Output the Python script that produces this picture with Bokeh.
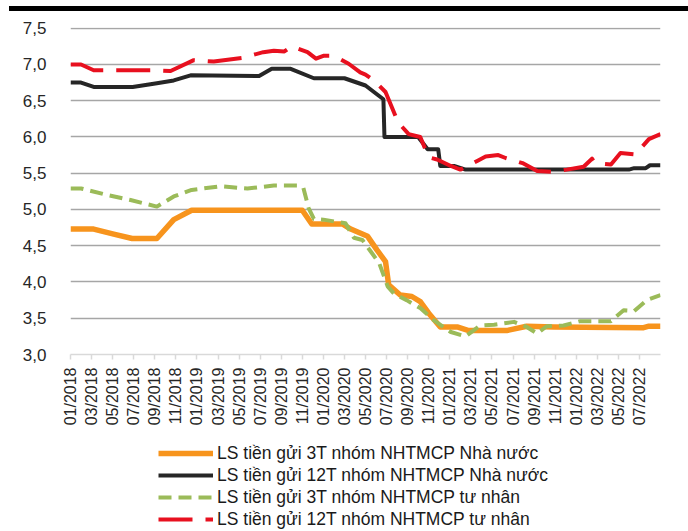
import math
from bokeh.plotting import figure
from bokeh.models import Legend, LegendItem, FixedTicker, Div, Range1d
from bokeh.layouts import column
from bokeh.embed import file_html
from bokeh.resources import INLINE

# x positions are months counted from 01/2018 (0 = 01/2018)
tick_months = list(range(0, 56, 2))
tick_labels = [
    "01/2018", "03/2018", "05/2018", "07/2018", "09/2018", "11/2018",
    "01/2019", "03/2019", "05/2019", "07/2019", "09/2019", "11/2019",
    "01/2020", "03/2020", "05/2020", "07/2020", "09/2020", "11/2020",
    "01/2021", "03/2021", "05/2021", "07/2021", "09/2021", "11/2021",
    "01/2022", "03/2022", "05/2022", "07/2022",
]

# LS tiền gửi 3T nhóm NHTMCP Nhà nước
state_3t_x = [0, 2.2, 4.1, 5.85, 8.2, 9.8, 11.5, 22.0, 22.9, 25.8, 26.6, 28.2, 29.1,
              29.9, 30.2, 31.3, 32.4, 33.2, 34.0, 35.1, 36.7, 37.8, 41.4, 43.3,
              45.9, 54.4, 54.9, 56]
state_3t_y = [4.73, 4.73, 4.66, 4.60, 4.60, 4.86, 4.99, 4.99, 4.80, 4.80, 4.73, 4.63, 4.44,
              4.28, 3.96, 3.82, 3.80, 3.73, 3.57, 3.38, 3.38, 3.33, 3.33, 3.39,
              3.38, 3.37, 3.39, 3.39]

# LS tiền gửi 12T nhóm NHTMCP Nhà nước
state_12t_x = [0, 1.0, 2.2, 5.9, 8.2, 9.8, 11.4, 17.9, 19.1, 20.9, 23.1, 26.0, 28.0,
               28.8, 29.7, 29.8, 33.0, 33.9, 34.9, 35.1, 36.4, 37.5, 53.0, 53.5,
               54.6, 55.0, 56]
state_12t_y = [6.75, 6.75, 6.69, 6.69, 6.74, 6.78, 6.85, 6.84, 6.94, 6.94, 6.81, 6.81, 6.71,
               6.62, 6.52, 6.00, 6.00, 5.83, 5.83, 5.60, 5.60, 5.55, 5.55, 5.57,
               5.57, 5.61, 5.61]

# LS tiền gửi 3T nhóm NHTMCP tư nhân
private_3t_x = [0, 1.0, 3.2, 5.7, 8.2, 9.8, 11.5, 14.2, 16.8, 19.3, 21.5, 22.1, 22.6,
                23.1, 24.0, 26.1, 26.9, 27.7, 28.5, 29.3, 30.1, 30.7, 31.9, 33.2,
                34.5, 36.1, 37.5, 38.9, 40.2, 42.1, 43.3, 44.3, 45.2, 46.8, 48.4,
                51.3, 52.5, 53.5, 54.7, 56]
private_3t_y = [5.29, 5.29, 5.21, 5.13, 5.04, 5.18, 5.27, 5.32, 5.29, 5.33, 5.33, 5.30, 5.02,
                4.87, 4.86, 4.81, 4.61, 4.58, 4.42, 4.26, 3.94, 3.84, 3.75, 3.64,
                3.47, 3.31, 3.25, 3.40, 3.41, 3.45, 3.38, 3.29, 3.39, 3.40, 3.46,
                3.46, 3.61, 3.60, 3.75, 3.82]

# LS tiền gửi 12T nhóm NHTMCP tư nhân
private_12t_x = [0, 1.0, 2.2, 7.8, 9.5, 11.7, 13.6, 16.3, 18.3, 19.3, 20.3, 21.0, 22.5,
                 23.3, 24.0, 25.0, 26.4, 27.5, 28.0, 28.8, 29.9, 31.1, 32.1, 33.2,
                 34.0, 34.8, 36.1, 37.0, 38.6, 39.4, 40.6, 41.3, 42.9, 44.3, 45.7,
                 47.1, 48.7, 49.5, 49.8, 51.3, 52.2, 53.6, 54.9, 56]
private_12t_y = [7.00, 7.00, 6.92, 6.92, 6.91, 7.06, 7.04, 7.09, 7.17, 7.19, 7.18, 7.25, 7.17,
                 7.08, 7.12, 7.12, 7.01, 6.89, 6.86, 6.78, 6.62, 6.20, 6.04, 6.00,
                 5.72, 5.69, 5.60, 5.55, 5.67, 5.73, 5.75, 5.71, 5.64, 5.53, 5.52,
                 5.55, 5.59, 5.70, 5.64, 5.62, 5.78, 5.76, 5.97, 6.04]

series_names = [
    "LS tiền gửi 3T nhóm NHTMCP Nhà nước",
    "LS tiền gửi 12T nhóm NHTMCP Nhà nước",
    "LS tiền gửi 3T nhóm NHTMCP tư nhân",
    "LS tiền gửi 12T nhóm NHTMCP tư nhân",
]

y_ticks = [3.0, 3.5, 4.0, 4.5, 5.0, 5.5, 6.0, 6.5, 7.0, 7.5]

FONT = "Liberation Sans"

# line styles shared by the chart and its legend
styles = [
    dict(line_color="#F7941D", line_width=5.5, line_join="round"),
    dict(line_color="#262626", line_width=4, line_join="round"),
    dict(line_color="#9BBB59", line_width=4, line_dash="13 7", line_join="round"),
    dict(line_color="#E8101F", line_width=4, line_dash="34 13", line_join="round"),
]

p = figure(
    width=688, height=429,
    x_range=Range1d(0, 56), y_range=Range1d(3.0, 7.51),
    output_backend="svg", toolbar_location=None,
    min_border_left=70, min_border_right=28,
    min_border_top=16, min_border_bottom=86,
    background_fill_color="white", border_fill_color="white",
    outline_line_color=None,
)

# y axis: comma decimal labels, no axis line or ticks
p.yaxis.ticker = FixedTicker(ticks=y_ticks)
p.yaxis.major_label_overrides = {t: f"{t:.1f}".replace(".", ",") for t in y_ticks}
p.yaxis.axis_line_color = None
p.yaxis.major_tick_line_color = None
p.yaxis.minor_tick_line_color = None
p.yaxis.major_label_standoff = 18
p.yaxis.major_label_text_font = FONT
p.yaxis.major_label_text_font_size = "17px"
p.yaxis.major_label_text_color = "#262626"

# x axis: vertical month labels every second month
p.xaxis.ticker = FixedTicker(ticks=tick_months)
p.xaxis.major_label_overrides = {m: lab for m, lab in zip(tick_months, tick_labels)}
p.xaxis.major_label_orientation = math.pi / 2
p.xaxis.axis_line_color = "#D9D9D9"
p.xaxis.axis_line_width = 1.5
p.xaxis.major_tick_line_color = "#D9D9D9"
p.xaxis.major_tick_line_width = 1.5
p.xaxis.major_tick_in = 0
p.xaxis.major_tick_out = 5
p.xaxis.minor_tick_line_color = None
p.xaxis.major_label_standoff = 8
p.xaxis.major_label_text_font = FONT
p.xaxis.major_label_text_font_size = "16px"
p.xaxis.major_label_text_color = "#262626"

p.xgrid.grid_line_color = None
p.ygrid.ticker = FixedTicker(ticks=y_ticks[1:])
p.ygrid.grid_line_color = "#A6A6A6"
p.ygrid.grid_line_width = 1.3

series_x = [state_3t_x, state_12t_x, private_3t_x, private_12t_x]
series_y = [state_3t_y, state_12t_y, private_3t_y, private_12t_y]
for xs, ys, st in zip(series_x, series_y, styles):
    p.line(xs, ys, **st)

# legend panel below the chart; its sample lines sit outside the visible range
lg = figure(
    width=688, height=91,
    x_range=Range1d(0, 1), y_range=Range1d(0, 1),
    output_backend="svg", toolbar_location=None,
    x_axis_location=None, y_axis_location=None,
    min_border=0, outline_line_color=None,
    background_fill_color="white", border_fill_color="white",
)
lg.grid.visible = False
legend_renderers = [lg.line([-2, -1], [-2, -1], **st) for st in styles]

legend = Legend(
    items=[LegendItem(label=n, renderers=[r]) for n, r in zip(series_names, legend_renderers)],
    location=(88, 1),
    orientation="vertical",
    border_line_color=None,
    background_fill_alpha=0,
    padding=0, margin=0, spacing=0,
    glyph_width=55, glyph_height=22, label_height=22,
    label_standoff=4,
    label_text_font=FONT, label_text_font_size="17.5px",
    label_text_color="#1a1a1a",
)
lg.add_layout(legend)

top_bar = Div(text="", width=679, height=5, margin=(6, 0, 0, 9),
              styles={"background-color": "#000000"})

layout = column(top_bar, p, lg, spacing=0)

with open("out.html", "w") as f:
    f.write(file_html(layout, INLINE))
